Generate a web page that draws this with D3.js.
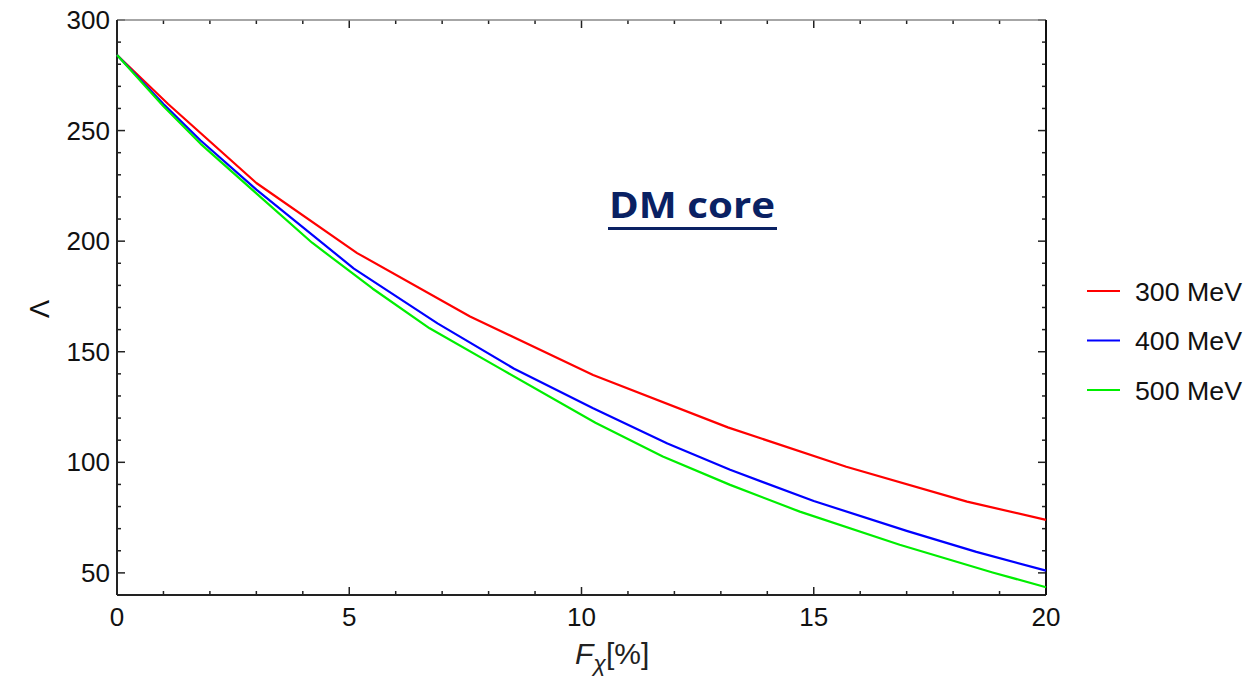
<!DOCTYPE html>
<html>
<head>
<meta charset="utf-8">
<script src="https://cdn.jsdelivr.net/npm/d3@7"></script>
<style>
	body { margin: 0; background: #fff; }
	svg { display: block; font-family: "Liberation Sans", Arial, sans-serif; }
</style>
</head>
<body>
<svg width="1255" height="691"></svg>
<script>
// Data
const fracPct300 = [0, 1.1, 3.0, 5.17, 7.6, 10.25, 13.15, 15.7, 18.3, 20];
const lambda300 = [284.2, 262, 226.3, 194.6, 165.9, 139.5, 115.8, 98, 82.2, 74];

const fracPct400 = [0, 1, 1.8, 3, 5.1, 6.9, 8.55, 10.25, 11.85, 13.2, 15, 17, 18.5, 20];
const lambda400 = [284.2, 262, 245.5, 223.3, 187.6, 162.8, 142.3, 124.4, 108.5, 96.6, 82.5, 69, 59.5, 51];

const fracPct500 = [0, 1, 1.8, 3, 4.2, 5.5, 6.73, 8.3, 10.3, 11.75, 13.2, 14.7, 16.85, 18.85, 20];
const lambda500 = [284.2, 261, 244, 221.6, 199.3, 178.6, 160.6, 141.8, 117.9, 102.6, 89.8, 77.7, 62.7, 50.2, 43.5];

const seriesNames = ["300 MeV", "400 MeV", "500 MeV"];
const seriesColors = ["#ff0000", "#0000ff", "#00ee00"];
const xTicks = [0, 5, 10, 15, 20];
const yTicks = [50, 100, 150, 200, 250, 300];

const series = [
	{ name: seriesNames[0], color: seriesColors[0], xs: fracPct300, ys: lambda300 },
	{ name: seriesNames[1], color: seriesColors[1], xs: fracPct400, ys: lambda400 },
	{ name: seriesNames[2], color: seriesColors[2], xs: fracPct500, ys: lambda500 }
];

const svg = d3.select("svg");
const pLeft = 117, pRight = 1046, pTop = 20, pBottom = 595;

const x = d3.scaleLinear().domain([0, 20]).range([pLeft, pRight]);
const y = d3.scaleLinear().domain([40, 300]).range([pBottom, pTop]);

const tickFont = 26;

// frame + ticks
const g = svg.append("g");

// minor / major ticks, pointing inward, all four sides
d3.range(0, 21, 1).forEach((v) => {
	const len = v % 5 === 0 ? 8 : 4;
	g.append("line").attr("x1", x(v)).attr("x2", x(v))
		.attr("y1", pBottom).attr("y2", pBottom - len)
		.attr("stroke", "#222").attr("stroke-width", 1.5);
	g.append("line").attr("x1", x(v)).attr("x2", x(v))
		.attr("y1", pTop).attr("y2", pTop + len)
		.attr("stroke", "#222").attr("stroke-width", 1.5);
});
d3.range(40, 301, 10).forEach((v) => {
	const len = v % 50 === 0 ? 8 : 4;
	g.append("line").attr("y1", y(v)).attr("y2", y(v))
		.attr("x1", pLeft).attr("x2", pLeft + len)
		.attr("stroke", "#222").attr("stroke-width", 1.5);
	g.append("line").attr("y1", y(v)).attr("y2", y(v))
		.attr("x1", pRight).attr("x2", pRight - len)
		.attr("stroke", "#222").attr("stroke-width", 1.5);
});

g.append("line").attr("x1", pLeft).attr("x2", pRight).attr("y1", pTop).attr("y2", pTop)
	.attr("stroke", "#888").attr("stroke-width", 1.5);
g.append("line").attr("x1", pLeft).attr("x2", pRight).attr("y1", pBottom).attr("y2", pBottom)
	.attr("stroke", "#222").attr("stroke-width", 2);
g.append("line").attr("x1", pLeft).attr("x2", pLeft).attr("y1", pTop).attr("y2", pBottom)
	.attr("stroke", "#222").attr("stroke-width", 2);
g.append("line").attr("x1", pRight).attr("x2", pRight).attr("y1", pTop).attr("y2", pBottom)
	.attr("stroke", "#111").attr("stroke-width", 2);

// tick labels
g.selectAll(".xlab").data(xTicks).enter().append("text")
	.attr("class", "xlab")
	.attr("x", (d) => x(d)).attr("y", 626)
	.attr("text-anchor", "middle")
	.style("font-size", tickFont + "px").style("fill", "#111")
	.text((d) => d);

g.selectAll(".ylab").data(yTicks).enter().append("text")
	.attr("class", "ylab")
	.attr("x", 110).attr("y", (d) => y(d) + 9)
	.attr("text-anchor", "end")
	.style("font-size", tickFont + "px").style("fill", "#111")
	.text((d) => d);

// axis titles
const xt = svg.append("text").attr("x", 575).attr("y", 664)
	.style("font-size", "30px").style("fill", "#222");
xt.append("tspan").style("font-style", "italic").text("F");
xt.append("tspan").attr("dy", 7).style("font-style", "italic").style("font-size", "23px").text("χ");
xt.append("tspan").attr("dy", -7).text("[%]");

svg.append("text")
	.attr("transform", "translate(49,309) rotate(-90)")
	.attr("text-anchor", "middle")
	.style("font-size", "27px").style("fill", "#111")
	.text("Λ");

// curves
const line = d3.line().x((d) => x(d[0])).y((d) => y(d[1]));
const plot = svg.append("g");
plot.selectAll(".curve").data(series).enter().append("path")
	.attr("class", "curve")
	.attr("fill", "none")
	.attr("stroke", (d) => d.color)
	.attr("stroke-width", 2.2)
	.attr("stroke-linejoin", "round")
	.attr("d", (d) => line(d.xs.map((v, i) => [v, d.ys[i]])));

// legend
const leg = svg.append("g");
series.forEach((s, i) => {
	const ly = 291 + i * 49.5;
	leg.append("line").attr("x1", 1087).attr("x2", 1120).attr("y1", ly).attr("y2", ly)
		.attr("stroke", s.color).attr("stroke-width", 2);
	leg.append("text").attr("x", 1135).attr("y", ly + 9.5)
		.attr("textLength", 107).attr("lengthAdjust", "spacingAndGlyphs")
		.style("font-size", "26.5px").style("fill", "#111")
		.text(s.name);
});

// annotation
svg.append("text").attr("x", 609).attr("y", 218)
	.attr("textLength", 166).attr("lengthAdjust", "spacingAndGlyphs")
	.style("font-family", "'Open Sans', sans-serif")
	.style("font-weight", "bold").style("font-size", "35px").style("fill", "#0a2163")
	.text("DM core");
svg.append("rect").attr("x", 608).attr("y", 227).attr("width", 169).attr("height", 3)
	.attr("fill", "#0a2163");
</script>
</body>
</html>
